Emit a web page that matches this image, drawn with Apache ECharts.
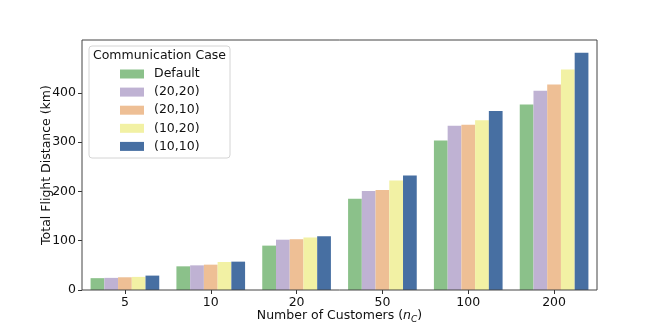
<!DOCTYPE html>
<html>
<head>
<meta charset="utf-8">
<script src="https://cdn.jsdelivr.net/npm/echarts@6/dist/echarts.min.js"></script>
<style>
  html, body { margin: 0; padding: 0; background: #fff; }
  #chart { width: 664px; height: 332px; }
</style>
</head>
<body>
<div id="chart"></div>
<script>
// bar chart — flight distance per communication case

const CATEGORIES = ['5', '10', '20', '50', '100', '200'];
const Y_TICKS = [0, 100, 200, 300, 400];

const DEFAULT_CASE = [24, 48, 90, 185, 303, 376];
const CASE_20_20   = [24.6, 50, 102, 201, 333, 404];
const CASE_20_10   = [25.8, 51.4, 103, 203, 335, 417];
const CASE_10_20   = [26.6, 56.8, 106.5, 222, 344, 447];
const CASE_10_10   = [29.2, 57.5, 109, 232, 363, 481];

const SERIES = [
  { name: 'Default', values: DEFAULT_CASE, color: '#8BC18A' },
  { name: '(20,20)', values: CASE_20_20,   color: '#BFB2D3' },
  { name: '(20,10)', values: CASE_20_10,   color: '#EEBF95' },
  { name: '(10,20)', values: CASE_10_20,   color: '#F2F1A4' },
  { name: '(10,10)', values: CASE_10_10,   color: '#476FA2' },
];

const FONT = 'DejaVu Sans';
const FS = 12.5;
const INK = '#111';
const FRAME = '#444';

const c = echarts.init(document.getElementById('chart'), null, { renderer: 'canvas' });
c.setOption({
  animation: false,
  textStyle: { fontFamily: FONT, color: INK },
  grid: { left: 82, right: 67, top: 40, bottom: 42, show: true, borderColor: FRAME, borderWidth: 1, z: 3 },
  graphic: [
    {
      type: 'rect', z: 5,
      shape: { x: 89, y: 46, width: 141, height: 112, r: 3 },
      style: { fill: 'rgba(255,255,255,0.8)', stroke: '#d4d4d4', lineWidth: 1 },
    },
    {
      type: 'text', z: 6, x: 159.5, y: 56,
      style: { text: 'Communication Case', fontFamily: FONT, fontSize: FS, fill: INK, align: 'center', verticalAlign: 'middle' },
    },
  ],
  legend: {
    orient: 'vertical', left: 120, top: 67, z: 7, padding: 0,
    itemWidth: 24, itemHeight: 9, itemGap: 4.1,
    icon: 'rect',
    textStyle: { fontFamily: FONT, fontSize: FS, color: INK, lineHeight: 14, padding: [0, 0, 0, 5] },
    data: SERIES.map(s => s.name),
  },
  xAxis: {
    type: 'category', data: CATEGORIES,
    name: '{a|Number of Customers (}{i|n}{s|C}{a|)}',
    nameLocation: 'middle', nameGap: 18, nameMoveOverlap: false,
    nameTextStyle: {
      fontFamily: FONT, fontSize: FS, color: INK,
      rich: {
        a: { fontFamily: FONT, fontSize: FS, color: INK },
        i: { fontFamily: FONT, fontSize: FS, color: INK, fontStyle: 'italic' },
        s: { fontFamily: FONT, fontSize: 9, color: INK, fontStyle: 'italic', padding: [7, 0, 0, 0] },
      },
    },
    axisLine: { show: false },
    axisTick: { show: true, alignWithLabel: true, length: 4, lineStyle: { color: '#333' } },
    axisLabel: { fontFamily: FONT, fontSize: FS, color: INK, margin: 6 },
    splitLine: { show: false },
  },
  yAxis: {
    type: 'value', min: 0, max: 507,
    name: 'Total Flight Distance (km)',
    nameLocation: 'middle', nameGap: 29, nameRotate: 90, nameMoveOverlap: false,
    nameTextStyle: { fontFamily: FONT, fontSize: FS, color: INK },
    axisLine: { show: false },
    axisTick: { show: true, length: 4, lineStyle: { color: '#333' }, customValues: Y_TICKS },
    axisLabel: { fontFamily: FONT, fontSize: FS, color: INK, margin: 6, customValues: Y_TICKS },
    splitLine: { show: false },
  },
  series: SERIES.map(s => ({
    name: s.name, type: 'bar', data: s.values,
    barCategoryGap: '20%', barGap: '0%',
    itemStyle: { color: s.color },
  })),
});
</script>
</body>
</html>
